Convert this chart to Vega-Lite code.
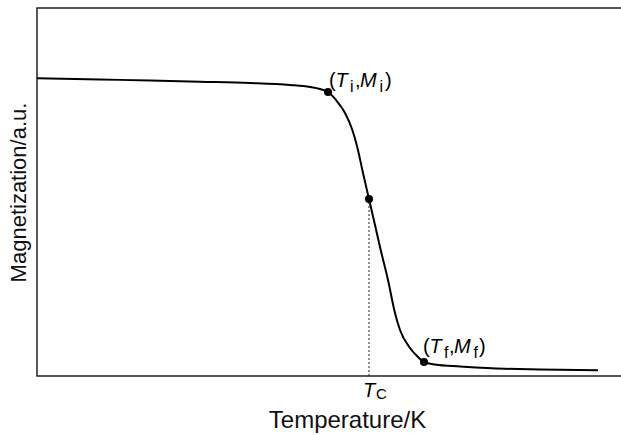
{
  "$schema": "https://vega.github.io/schema/vega-lite/v6.json",
  "autosize": "none",
  "padding": {"left": 37, "top": 8, "right": 0, "bottom": 59},
  "width": 620,
  "height": 368,
  "background": "white",
  "config": {
    "view": {"stroke": "#222", "strokeWidth": 1.5},
    "font": "Liberation Sans"
  },
  "datasets": {
    "curve": [
      {"t": 0, "m": 297.7},
      {"t": 63, "m": 296.5},
      {"t": 113, "m": 295.5},
      {"t": 163, "m": 294.3},
      {"t": 213, "m": 293},
      {"t": 253, "m": 291},
      {"t": 273, "m": 289},
      {"t": 283, "m": 287},
      {"t": 291, "m": 284},
      {"t": 299, "m": 276},
      {"t": 308, "m": 263},
      {"t": 315, "m": 247},
      {"t": 320, "m": 230},
      {"t": 326, "m": 203},
      {"t": 332, "m": 177},
      {"t": 338, "m": 151},
      {"t": 343, "m": 129},
      {"t": 351, "m": 96},
      {"t": 358, "m": 63},
      {"t": 363, "m": 46},
      {"t": 373, "m": 28},
      {"t": 381, "m": 19},
      {"t": 387, "m": 14},
      {"t": 398, "m": 11.5},
      {"t": 423, "m": 9.5},
      {"t": 455, "m": 7.7},
      {"t": 503, "m": 6.5},
      {"t": 561, "m": 5.7}
    ],
    "points": [
      {"t": 291, "m": 284},
      {"t": 332, "m": 177},
      {"t": 387, "m": 14}
    ],
    "labels": [
      {"t": 292, "m": 289, "sub": "i"},
      {"t": 386, "m": 23, "sub": "f"}
    ],
    "tc": [
      {"t": 332, "m": -21, "m0": 0, "m1": 177}
    ]
  },
  "layer": [
    {
      "data": {"name": "tc"},
      "mark": {"type": "rule", "strokeDash": [2, 2], "strokeWidth": 1, "color": "#222"},
      "encoding": {
        "x": {"field": "t", "type": "quantitative", "scale": {"domain": [0, 620], "nice": false, "zero": false},
          "axis": {"domain": false, "ticks": false, "labels": false, "grid": false, "title": "Temperature/K",
            "titleFont": "Liberation Sans", "titleFontSize": 24, "titleFontWeight": "normal", "titleColor": "#111", "titlePadding": 32}},
        "y": {"field": "m0", "type": "quantitative", "scale": {"domain": [0, 368], "nice": false, "zero": false},
          "axis": {"domain": false, "ticks": false, "labels": false, "grid": false, "title": "Magnetization/a.u.",
            "titleFont": "Liberation Sans", "titleFontSize": 22, "titleFontWeight": "normal", "titleColor": "#111", "titlePadding": 7}},
        "y2": {"field": "m1"}
      }
    },
    {
      "data": {"name": "curve"},
      "mark": {"type": "line", "interpolate": "monotone", "color": "black", "strokeWidth": 2},
      "encoding": {
        "x": {"field": "t", "type": "quantitative"},
        "y": {"field": "m", "type": "quantitative"}
      }
    },
    {
      "data": {"name": "points"},
      "mark": {"type": "circle", "color": "black", "opacity": 1, "size": 64},
      "encoding": {
        "x": {"field": "t", "type": "quantitative"},
        "y": {"field": "m", "type": "quantitative"}
      }
    },
    {
      "data": {"name": "labels"},
      "mark": {"type": "text", "text": "(", "align": "left", "baseline": "alphabetic", "fontSize": 20, "dx": 0, "color": "black"},
      "encoding": {"x": {"field": "t", "type": "quantitative"}, "y": {"field": "m", "type": "quantitative"}}
    },
    {
      "data": {"name": "labels"},
      "mark": {"type": "text", "text": "T", "align": "left", "baseline": "alphabetic", "fontSize": 20, "fontStyle": "italic", "dx": 6.5, "color": "black"},
      "encoding": {"x": {"field": "t", "type": "quantitative"}, "y": {"field": "m", "type": "quantitative"}}
    },
    {
      "data": {"name": "labels"},
      "mark": {"type": "text", "align": "left", "baseline": "alphabetic", "fontSize": 16, "dx": 21, "dy": 5, "color": "black"},
      "encoding": {"x": {"field": "t", "type": "quantitative"}, "y": {"field": "m", "type": "quantitative"}, "text": {"field": "sub"}}
    },
    {
      "data": {"name": "labels"},
      "mark": {"type": "text", "text": ",", "align": "left", "baseline": "alphabetic", "fontSize": 20, "dx": 26, "color": "black"},
      "encoding": {"x": {"field": "t", "type": "quantitative"}, "y": {"field": "m", "type": "quantitative"}}
    },
    {
      "data": {"name": "labels"},
      "mark": {"type": "text", "text": "M", "align": "left", "baseline": "alphabetic", "fontSize": 20, "fontStyle": "italic", "dx": 31, "color": "black"},
      "encoding": {"x": {"field": "t", "type": "quantitative"}, "y": {"field": "m", "type": "quantitative"}}
    },
    {
      "data": {"name": "labels"},
      "mark": {"type": "text", "align": "left", "baseline": "alphabetic", "fontSize": 16, "dx": 50.5, "dy": 5, "color": "black"},
      "encoding": {"x": {"field": "t", "type": "quantitative"}, "y": {"field": "m", "type": "quantitative"}, "text": {"field": "sub"}}
    },
    {
      "data": {"name": "labels"},
      "mark": {"type": "text", "text": ")", "align": "left", "baseline": "alphabetic", "fontSize": 20, "dx": 56, "color": "black"},
      "encoding": {"x": {"field": "t", "type": "quantitative"}, "y": {"field": "m", "type": "quantitative"}}
    },
    {
      "data": {"name": "tc"},
      "mark": {"type": "text", "text": "T", "align": "left", "baseline": "alphabetic", "fontSize": 20, "fontStyle": "italic", "dx": -6, "color": "black"},
      "encoding": {"x": {"field": "t", "type": "quantitative"}, "y": {"field": "m", "type": "quantitative"}}
    },
    {
      "data": {"name": "tc"},
      "mark": {"type": "text", "text": "C", "align": "left", "baseline": "alphabetic", "fontSize": 15, "dx": 7, "dy": 2, "color": "black"},
      "encoding": {"x": {"field": "t", "type": "quantitative"}, "y": {"field": "m", "type": "quantitative"}}
    }
  ]
}
